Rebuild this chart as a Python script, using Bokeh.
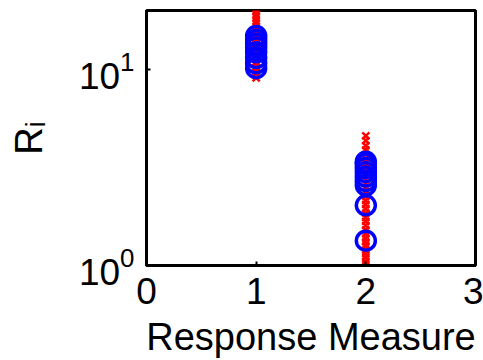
from bokeh.plotting import figure
from bokeh.models import Range1d, FixedTicker
from bokeh.embed import file_html
from bokeh.resources import INLINE

# Data
red_x1 = [9.1, 9.4, 9.7, 10.0, 10.3, 10.6, 11.0, 11.3, 11.7, 12.0, 12.4, 12.8, 13.2,
          13.6, 14.0, 14.5, 15.0, 15.5, 16.0, 16.6, 17.2, 17.8, 18.5, 19.2, 20.0, 21.0]
blue_x1 = [10.2, 10.8, 11.5, 12.3, 13.0, 13.6, 14.2, 14.9]
red_x2 = [1.01, 1.05, 1.1, 1.15, 1.2, 1.26, 1.32, 1.38, 1.45, 1.52, 1.6, 1.68, 1.76,
          1.85, 1.95, 2.05, 2.15, 2.26, 2.38, 2.5, 2.62, 2.75, 2.9, 3.05, 3.2, 3.35,
          3.5, 3.7, 3.9, 4.1, 4.35, 4.6]
blue_x2 = [1.34, 2.03, 2.57, 2.7, 2.85, 3.0, 3.15, 3.3, 3.39]
x_ticks = [0, 1, 2, 3]
y_ticks = [1, 10]

FONT = "Liberation Sans"

p = figure(width=483, height=360, output_backend="svg", toolbar_location=None,
           y_axis_type="log", x_range=Range1d(0, 3), y_range=Range1d(1, 20.1),
           min_border_left=146, min_border_bottom=92, min_border_top=10, min_border_right=8)

p.scatter([1] * len(red_x1), red_x1, marker="x", size=10, line_color="red", line_width=2.4)
p.scatter([2] * len(red_x2), red_x2, marker="x", size=10, line_color="red", line_width=2.4)
p.scatter([1] * len(blue_x1), blue_x1, marker="circle", size=19, line_color="blue",
          fill_color=None, line_width=3.5)
p.scatter([2] * len(blue_x2), blue_x2, marker="circle", size=19, line_color="blue",
          fill_color=None, line_width=3.5)

p.grid.visible = False
p.outline_line_color = "black"
p.outline_line_width = 3
p.background_fill_color = "white"
p.border_fill_color = "white"

p.xaxis.ticker = FixedTicker(ticks=x_ticks)
p.yaxis.ticker = FixedTicker(ticks=y_ticks)
for ax in (p.xaxis, p.yaxis):
    ax.axis_line_width = 3
    ax.axis_line_color = "black"
    ax.major_tick_in = 4
    ax.major_tick_out = 0
    ax.major_tick_line_width = 2
    ax.minor_tick_line_color = None
    ax.major_label_text_font = FONT
    ax.major_label_text_font_size = "37px"
    ax.major_label_text_color = "black"
    ax.axis_label_text_font = FONT
    ax.axis_label_text_font_size = "38px"
    ax.axis_label_text_font_style = "normal"
    ax.axis_label_text_color = "black"

p.xaxis.axis_label = "Response Measure"
p.xaxis.major_label_standoff = 12
p.xaxis.axis_label_standoff = 9

p.yaxis.axis_label = "Rᵢ"
p.yaxis.major_label_standoff = 12
p.yaxis.axis_label_standoff = 26

open("out.html", "w").write(file_html(p, INLINE))
